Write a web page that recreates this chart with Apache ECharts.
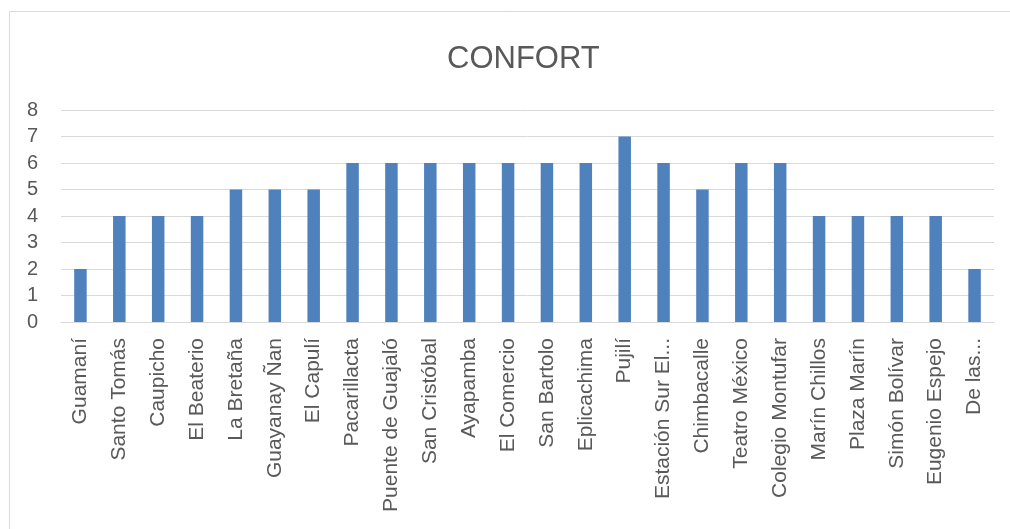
<!DOCTYPE html>
<html>
<head>
<meta charset="utf-8">
<script src="https://cdn.jsdelivr.net/npm/echarts@6/dist/echarts.min.js"></script>
<style>
  html, body { margin: 0; padding: 0; background: #ffffff; }
  #chart { width: 1010px; height: 529px; }
</style>
</head>
<body>
<div id="chart"></div>
<script>
// Station names along the category axis
const stations = [
  'Guamaní', 'Santo Tomás', 'Caupicho', 'El Beaterio', 'La Bretaña',
  'Guayanay Ñan', 'El Capulí', 'Pacarillacta', 'Puente de Guajaló',
  'San Cristóbal', 'Ayapamba', 'El Comercio', 'San Bartolo', 'Eplicachima',
  'Pujilí', 'Estación Sur El...', 'Chimbacalle', 'Teatro México',
  'Colegio Montufar', 'Marín Chillos', 'Plaza Marín', 'Simón Bolívar',
  'Eugenio Espejo', 'De las...'
];

// Comfort score per station
const comfort = [2, 4, 4, 4, 5, 5, 5, 6, 6, 6, 6, 6, 6, 6, 7, 6, 5, 6, 6, 4, 4, 4, 4, 2];

// Value axis range
const yMin = 0;
const yMax = 8;
const yStep = 1;

const textColor = '#595959';
const lineColor = '#d9d9d9';
const fontFamily = '"Liberation Sans", Arial, sans-serif';

const chart = echarts.init(document.getElementById('chart'), null, { renderer: 'canvas' });

chart.setOption({
  backgroundColor: '#ffffff',
  animation: false,
  title: {
    text: 'CONFORT',
    left: 442,
    top: 39,
    textStyle: { color: textColor, fontSize: 31, fontWeight: 'normal', fontFamily: fontFamily }
  },
  graphic: [{
    type: 'rect',
    shape: { x: 9.5, y: 11.5, width: 1200, height: 800 },
    style: { fill: 'none', stroke: lineColor, lineWidth: 1 },
    silent: true,
    z: -1
  }],
  grid: { left: 61, right: 16, top: 110, bottom: 207, containLabel: false },
  xAxis: {
    type: 'category',
    data: stations,
    axisLine: { show: true, lineStyle: { color: lineColor, width: 1 } },
    axisTick: { show: false },
    axisLabel: {
      rotate: 90,
      interval: 0,
      margin: 16,
      color: textColor,
      fontSize: 21,
      fontFamily: fontFamily
    }
  },
  yAxis: {
    type: 'value',
    min: yMin,
    max: yMax,
    interval: yStep,
    axisLine: { show: false },
    axisTick: { show: false },
    splitLine: { show: true, lineStyle: { color: lineColor, width: 1 } },
    axisLabel: { color: textColor, fontSize: 20, margin: 23, fontFamily: fontFamily }
  },
  series: [{
    type: 'bar',
    data: comfort,
    barWidth: 12.5,
    itemStyle: { color: '#4f81bd' }
  }]
});
</script>
</body>
</html>
